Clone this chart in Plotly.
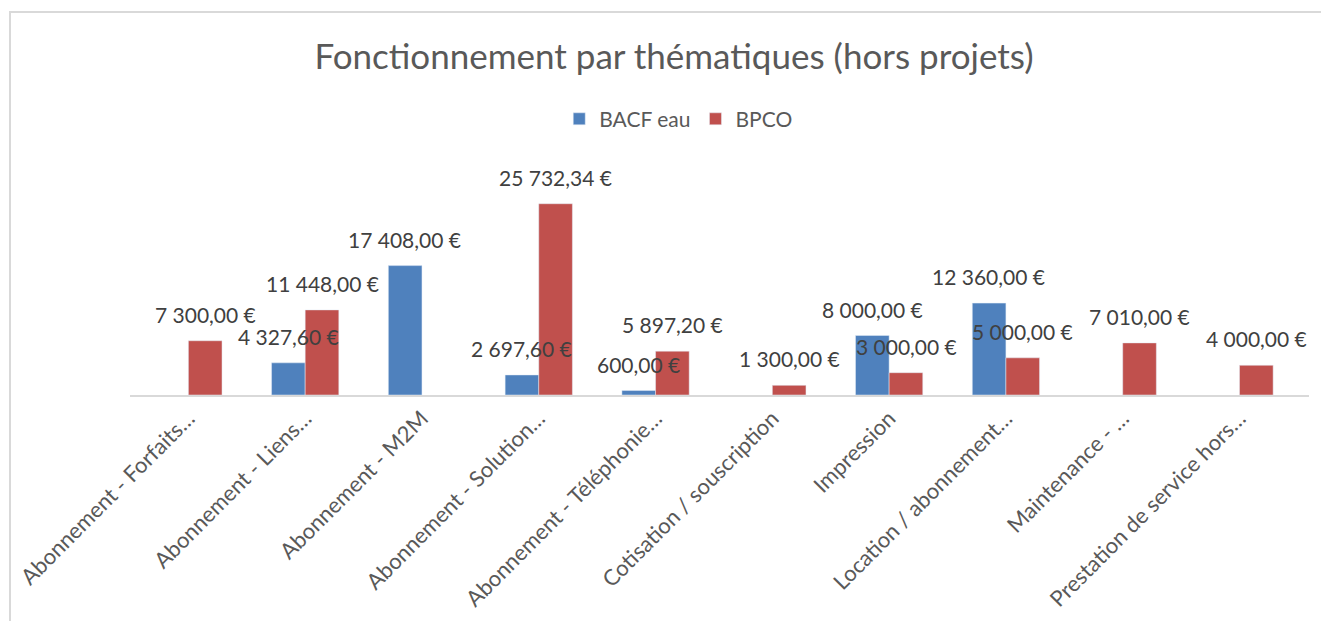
import plotly.graph_objects as go

categories = [
    "Abonnement - Forfaits…",
    "Abonnement - Liens…",
    "Abonnement - M2M",
    "Abonnement - Solution…",
    "Abonnement - Téléphonie…",
    "Cotisation / souscription",
    "Impression",
    "Location / abonnement…",
    "Maintenance - …",
    "Prestation de service hors…",
]
bacf_eau = [None, 4327.60, 17408.00, 2697.60, 600.00, None, 8000.00, 12360.00, None, None]
bpco = [7300.00, 11448.00, None, 25732.34, 5897.20, 1300.00, 3000.00, 5000.00, 7010.00, 4000.00]

BLUE = "#4F81BD"
RED = "#C0504D"
FONT = "Lato, Carlito, Calibri, sans-serif"


def fr(v):
    return f"{v:,.2f}".replace(",", " ").replace(".", ",") + " €"


fig = go.Figure()
fig.add_trace(go.Bar(name="BACF eau", x=categories, y=bacf_eau, marker_color=BLUE))
fig.add_trace(go.Bar(name="BPCO", x=categories, y=bpco, marker_color=RED))

annotations = []
for series, shift in ((bacf_eau, -17), (bpco, 17)):
    for c, v in zip(categories, series):
        if v is None:
            continue
        annotations.append(dict(
            x=c, y=v, xref="x", yref="y", text=fr(v), showarrow=False,
            xshift=shift, yshift=12, yanchor="bottom", xanchor="center",
            font=dict(family=FONT, size=21, color="#404040"),
        ))

W, H = 1321, 613
fig.update_layout(
    width=W, height=H,
    margin=dict(l=122, r=20, t=164, b=226),
    paper_bgcolor="white", plot_bgcolor="white",
    barmode="group", bargap=0.424, bargroupgap=0,
    title=dict(text="Fonctionnement par thématiques (hors projets)",
               x=666 / W, xanchor="center", y=1 - 49 / H, yanchor="middle",
               font=dict(family=FONT, size=35, color="#595959")),
    legend=dict(orientation="h", x=0.465, xanchor="center", y=1.237, yanchor="middle",
                font=dict(family=FONT, size=21, color="#595959"), traceorder="normal"),
    xaxis=dict(tickangle=-45, tickfont=dict(family=FONT, size=22, color="#595959"),
               showline=True, linecolor="#D9D9D9", linewidth=2, ticks="", showgrid=False,
               automargin=False),
    yaxis=dict(range=[0, 30000], visible=False, showgrid=False, zeroline=False,
               automargin=False),
    annotations=annotations,
    showlegend=True,
)

# chart frame (partially cropped like the reference)
fig.add_shape(type="rect", xref="paper", yref="paper",
              x0=-120 / 1179, x1=1.2, y0=-2.0, y1=(387 - 4) / 223,
              line=dict(color="#D9D9D9", width=2), fillcolor="rgba(0,0,0,0)", layer="below")

fig.write_html("out.html")
